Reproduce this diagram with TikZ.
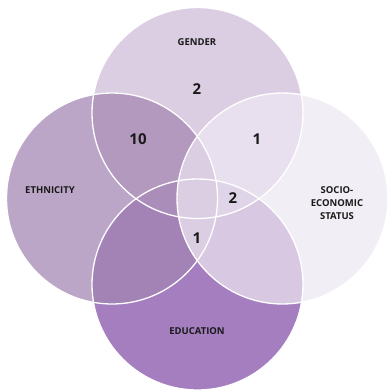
\documentclass[tikz,border=0pt]{standalone}
\usepackage{fontspec}
\setmainfont{Open Sans}
\definecolor{cT}{HTML}{DBCDE2}
\definecolor{cL}{HTML}{BCA6C8}
\definecolor{cR}{HTML}{F2EEF5}
\definecolor{cB}{HTML}{A57EC0}
\definecolor{cTL}{HTML}{B299BD}
\definecolor{cTR}{HTML}{E8E0EE}
\definecolor{cLB}{HTML}{A383B5}
\definecolor{cRB}{HTML}{D9C8E2}
\definecolor{cTLB}{HTML}{AA8EB9}
\definecolor{cTRB}{HTML}{E0D5E8}
\definecolor{ink}{HTML}{1A1A1A}
\begin{document}
\begin{tikzpicture}
[x=1pt, y=-1pt,
 setname/.style={font=\bfseries\fontsize{9.5}{13}\selectfont, text=ink, align=center},
 count/.style={font=\bfseries\fontsize{15}{18}\selectfont, text=ink},
 rim/.style={draw=white, line width=1.3pt}]
\useasboundingbox (0,0) rectangle (387,392);
% circle centres
\coordinate (T) at (197.5,113);
\coordinate (L) at (112,198.5);
\coordinate (R) at (282.5,198.5);
\coordinate (B) at (197.5,284.5);
\def\rad{105.5pt}
% single sets
\fill [cT] (T) circle [radius=\rad];
\fill [cL] (L) circle [radius=\rad];
\fill [cR] (R) circle [radius=\rad];
\fill [cB] (B) circle [radius=\rad];
% pairs with gender
\begin{scope}
\clip (T) circle [radius=\rad];
\fill [cTL] (L) circle [radius=\rad];
\fill [cTR] (R) circle [radius=\rad];
\end{scope}
% pairs with education
\begin{scope}
\clip (B) circle [radius=\rad];
\fill [cLB] (L) circle [radius=\rad];
\fill [cRB] (R) circle [radius=\rad];
\end{scope}
% gender and education
\begin{scope}
\clip (T) circle [radius=\rad];
\clip (B) circle [radius=\rad];
\fill [cTLB] (L) circle [radius=\rad];
\fill [cTRB] (R) circle [radius=\rad];
\end{scope}
% ethnicity and socio-economic status
\begin{scope}
\clip (L) circle [radius=\rad];
\clip (R) circle [radius=\rad];
\fill [cT] (100,100) rectangle (300,300);
\end{scope}
% outlines
\foreach \c in {T,L,R,B}
  \draw [rim] (\c) circle [radius=\rad];
% labels
\node [setname] (gender) at (197,42) {GENDER};
\node [setname] (ethnicity) at (50,190) {ETHNICITY};
\node [setname] (socio) at (337,203) {SOCIO-\\ECONOMIC\\STATUS};
\node [setname] (education) at (197,331) {EDUCATION};
% counts
\node [count] (nT) at (197,89) {2};
\node [count] (nTL) at (138,139) {10};
\node [count] (nTR) at (257,139) {1};
\node [count] (nTRB) at (233,198) {2};
\node [count] (nLRB) at (197,238) {1};
\end{tikzpicture}
\end{document}
